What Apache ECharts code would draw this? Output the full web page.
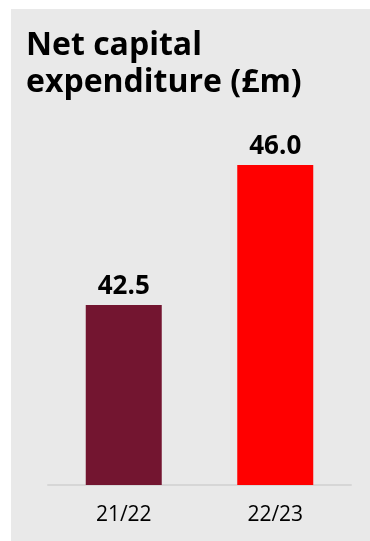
<!DOCTYPE html>
<html>
<head>
<meta charset="utf-8">
<script src="https://cdn.jsdelivr.net/npm/echarts@6/dist/echarts.min.js"></script>
<style>
  html, body { margin: 0; padding: 0; background: #ffffff; }
  #chart { width: 370px; height: 541px; }
</style>
</head>
<body>
<div id="chart"></div>
<script>
// Net capital expenditure by financial year (£m)
const categories = ['21/22', '22/23'];
const values = [42.5, 46.0];
const barColors = ['#731530', '#ff0000'];

const chart = echarts.init(document.getElementById('chart'), null, { renderer: 'canvas' });

const FONT = '"Open Sans", "Noto Sans", sans-serif';

chart.setOption({
  backgroundColor: 'transparent',
  animation: false,
  graphic: [
    {
      type: 'rect',
      z: -10,
      shape: { x: 11, y: 9, width: 370, height: 541 },
      style: { fill: '#e9e9e9' }
    },
    {
      type: 'text',
      left: 26,
      top: 27,
      style: {
        text: 'Net capital\nexpenditure (£m)',
        font: 'bold 32px ' + FONT,
        lineHeight: 37,
        fill: '#000000'
      }
    }
  ],
  grid: { left: 48, right: 19, top: 165, bottom: 56, containLabel: false },
  xAxis: {
    type: 'category',
    data: categories,
    axisLine: { show: true, lineStyle: { color: '#d6d6d6', width: 2 } },
    axisTick: { show: false },
    axisLabel: {
      color: '#000000',
      fontFamily: FONT,
      fontSize: 21,
      margin: 20
    }
  },
  yAxis: {
    type: 'value',
    min: 38,
    max: 46,
    show: false,
    splitLine: { show: false }
  },
  series: [{
    type: 'bar',
    barWidth: 76,
    data: values.map((v, i) => ({ value: v, itemStyle: { color: barColors[i] } })),
    label: {
      show: true,
      position: 'top',
      distance: 5,
      color: '#000000',
      fontFamily: FONT,
      fontWeight: 'bold',
      fontSize: 26,
      formatter: p => p.value.toFixed(1)
    }
  }]
});
</script>
</body>
</html>
